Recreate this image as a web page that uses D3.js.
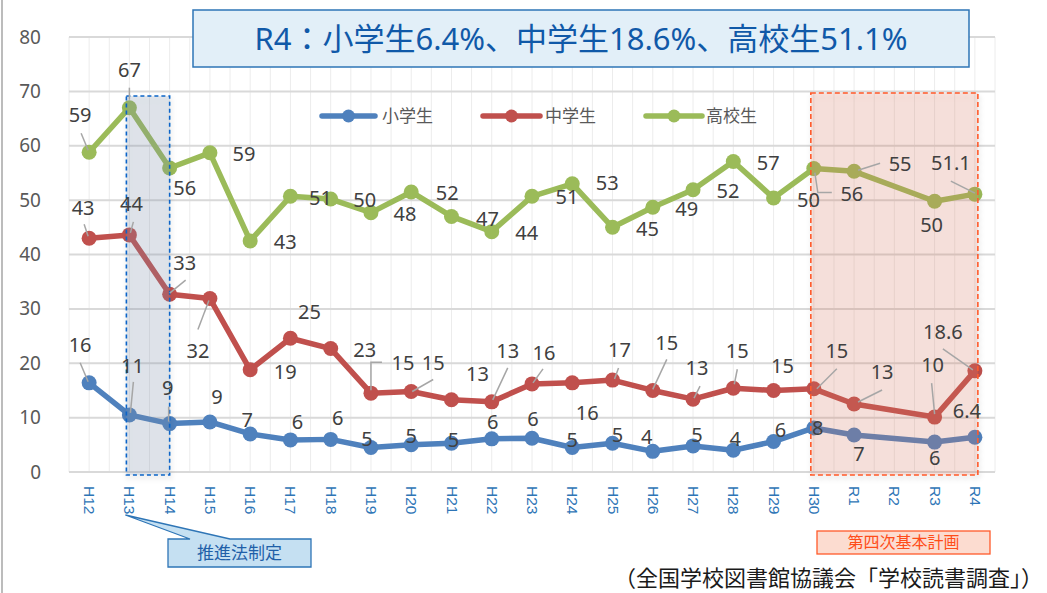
<!DOCTYPE html>
<html><head><meta charset="utf-8">
<script src="https://cdn.jsdelivr.net/npm/d3@7"></script>
<style>
body{margin:0;background:#fff;}
svg{display:block;font-family:"Noto Sans","Noto Sans CJK JP",sans-serif;}
</style></head><body>
<svg id="c" width="1047" height="593"></svg>
<script>
const categories = ["H12","H13","H14","H15","H16","H17","H18","H19","H20","H21","H22","H23","H24","H25","H26","H27","H28","H29","H30","R1","R2","R3","R4"];
const elementary = [16.4,10.5,8.9,9.2,7.0,5.9,6.0,4.5,5.0,5.3,6.1,6.2,4.5,5.3,3.8,4.8,4.0,5.6,8.1,6.8,null,5.5,6.4];
const junior     = [43.0,43.6,32.7,31.9,18.8,24.6,22.7,14.5,14.8,13.3,12.9,16.2,16.4,16.9,15.0,13.4,15.4,15.0,15.3,12.5,null,10.1,18.6];
const senior     = [58.8,67.0,55.9,58.7,42.5,50.7,50.2,47.7,51.5,47.0,44.2,50.7,53.0,45.0,48.7,51.9,57.1,50.4,55.8,55.3,null,49.8,51.1];
const elementaryLabels = ["16","11","9","9","7","6","6","5","5","5","6","6","5","5","4","5","4","6","8","7",null,"6","6.4"];
const juniorLabels     = ["43","44","33","32","19","25","23","15","15","13","13","16","16","17","15","13","15","15","15","13",null,"10","18.6"];
const seniorLabels     = ["59","67","56","59","43","51","50","48","52","47","44","51","53","45","49","52","57","50","56","55",null,"50","51.1"];
const seriesNames = ["小学生","中学生","高校生"];
const yTicks = [0,10,20,30,40,50,60,70,80];
const titleText = "R4：小学生6.4%、中学生18.6%、高校生51.1%";
const note1 = "推進法制定";
const note2 = "第四次基本計画";
const sourceText = "（全国学校図書館協議会「学校読書調査」）";

// label placement (layout only): [dx, dy] from the point
const elemOff = [[-9,-38],[3,-49],[-2,-36],[7,-25],[-3,-14],[7,-18],[7,-22],[-4,-9],[0,-9],[2,-3],[1,-17],[1,-19],[0,-8],[5,-8],[-6,-15],[4,-11],[2,-11],[7,-12],[4,0],[5,19],null,[0,16],[-8,-26]];
const junOff  = [[-6,-30],[2,-31],[15,-31],[-12,52],[35,2],[19,-26],[34,1],[32,-30],[22,-29],[26,-26],[16,-51],[12,-31],[15,30],[7,-30],[14,-48],[4,-31],[4,-37],[9,-25],[23,-38],[28,-32],null,[-2,-52],[-32,-39]];
const senOff  = [[-9,-37],[0,-38],[15,20],[34,1],[35,1],[30,1],[34,1],[34,1],[36,1],[36,2],[35,1],[35,0],[35,-1],[35,1],[34,2],[35,1],[35,1],[35,2],[38,25],[46,-8],null,[-3,24],[-24,-31]];
const elemLead = {0:[[-9,-20],[-1,-1]],1:[[4,-33],[1,-2]],2:[[-1,-17],[-1,-2]]};
const junLead  = {0:[[-5,-14],[-1,-2]],1:[[4,-13],[1,-2]],2:[[16,-14],[0,-1]],3:[[-12,31],[-1,2]],7:[[0,-3],[0,-31],[11,-31]],8:[[22,-12],[1,0]],10:[[16,-34],[1,-2]],11:[[11,-15],[1,-1]],13:[[6,-12],[2,-1]],14:[[14,-31],[0,-1]],15:[[7,-13],[1,-1]],16:[[4,-19],[1,-4]],18:[[23,-20],[3,0]],19:[[28,-14],[4,-2]],21:[[-3,-34],[0,-3]],22:[[-32,-22],[-2,-1]]};
const senLead  = {0:[[-8,-19],[-1,-2]],1:[[0,-20],[0,-8]],18:[[1,4],[4,24],[18,24]],19:[[4,-1],[26,-8]],22:[[-24,-13],[0,-1]]};

const colors = ["#4f81bd","#c0504d","#9bbb59"];
const svg = d3.select("#c");
const defs = svg.append("defs");
const f = defs.append("filter").attr("id","sh").attr("x","-10%").attr("y","-10%").attr("width","130%").attr("height","130%");
f.append("feDropShadow").attr("dx",1).attr("dy",3).attr("stdDeviation",2.5).attr("flood-color","#000").attr("flood-opacity",0.18);

const L = 69, R = 995, T = 37, B = 472;
const x = d3.scalePoint().domain(categories).range([L,R]).padding(0.5);
const y = d3.scaleLinear().domain([0,80]).range([B,T]);
const step = x.step();

// frame line on left
svg.append("line").attr("x1",2).attr("x2",2).attr("y1",0).attr("y2",593).attr("stroke","#a6a6a6").attr("stroke-width",1.5);

// vertical light gridlines every half category
const g = svg.append("g");
for (let i = 0; i <= categories.length*2; i++) {
  const xx = L + i*step/2;
  g.append("line").attr("x1",xx).attr("x2",xx).attr("y1",T).attr("y2",B).attr("stroke","#ececec").attr("stroke-width",1);
}
// horizontal gridlines
g.selectAll(".hg").data(yTicks).join("line")
  .attr("x1",L).attr("x2",R).attr("y1",d=>y(d)).attr("y2",d=>y(d))
  .attr("stroke","#d9d9d9").attr("stroke-width",2);

// y axis labels
const yAxis = d3.axisLeft(y).tickValues(yTicks).tickSize(0).tickPadding(0);
const ya = svg.append("g").attr("transform",`translate(${41},0)`).call(yAxis);
ya.select(".domain").remove();
ya.selectAll("text").attr("font-size",19).attr("fill","#595959").attr("font-family",'"Noto Sans",sans-serif');

// x axis labels (rotated)
const xAxis = d3.axisBottom(x).tickSize(0).tickPadding(0);
const xa = svg.append("g").attr("transform",`translate(0,${B})`).call(xAxis);
xa.select(".domain").remove();
xa.selectAll("text").attr("font-size",15.5).attr("fill","#2e75b6")
  .attr("transform","translate(0,14) rotate(90)").attr("text-anchor","start")
  .attr("dy","0.35em").attr("y",0).attr("x",0);

// series
const allSeries = [elementary, junior, senior];
const allLabels = [elementaryLabels, juniorLabels, seniorLabels];
const allOff = [elemOff, junOff, senOff];
const allLead = [elemLead, junLead, senLead];
const line = d3.line().x(d=>x(d.c)).y(d=>y(d.v));
const seriesG = svg.append("g");
allSeries.forEach((vals,s)=>{
  const pts = vals.map((v,i)=>({c:categories[i],v,i})).filter(d=>d.v!=null);
  seriesG.append("path").datum(pts).attr("d",line).attr("fill","none")
    .attr("stroke",colors[s]).attr("stroke-width",5.5).attr("stroke-linejoin","round");
  seriesG.selectAll(null).data(pts).join("circle")
    .attr("cx",d=>x(d.c)).attr("cy",d=>y(d.v)).attr("r",7.5).attr("fill",colors[s]);
});

// annotation rectangles (semi-transparent overlays)
const x13 = x("H13"), x14 = x("H14"), x30 = x("H30"), xR4 = x("R4");
svg.append("rect").attr("x",x13-3).attr("y",96).attr("width",x14-x13+3).attr("height",379)
  .attr("fill","rgba(132,151,176,0.22)").attr("stroke","#0a64c8").attr("stroke-width",1.6)
  .attr("stroke-dasharray","4,3").attr("filter","url(#sh)");
svg.append("rect").attr("x",x30-3).attr("y",93).attr("width",xR4-x30+6).attr("height",382)
  .attr("fill","rgba(226,120,95,0.2)").attr("stroke","#ff5a2a").attr("stroke-width",1.6)
  .attr("stroke-dasharray","5,3").attr("filter","url(#sh)");

// leaders and labels
const lab = svg.append("g");
allSeries.forEach((vals,s)=>{
  vals.forEach((v,i)=>{
    if (v==null) return;
    const px = x(categories[i]), py = y(v);
    const ld = allLead[s][i];
    if (ld) {
      lab.append("polyline").attr("points",ld.map(p=>`${px+p[0]},${py+p[1]}`).join(" "))
        .attr("fill","none").attr("stroke","#a6a6a6").attr("stroke-width",1.5);
    }
    const o = allOff[s][i];
    lab.append("text").attr("x",px+o[0]).attr("y",py+o[1]).attr("dy","0.36em")
      .attr("text-anchor","middle").attr("font-size",20).attr("fill","#404040")
      .text(allLabels[s][i]);
  });
});

// legend
const legend = [{x0:322,x1:375,tx:382},{x0:483,x1:540,tx:545},{x0:646,x1:702,tx:706}];
legend.forEach((d,s)=>{
  svg.append("line").attr("x1",d.x0).attr("x2",d.x1).attr("y1",116).attr("y2",116)
    .attr("stroke",colors[s]).attr("stroke-width",5.5).attr("stroke-linecap","round");
  svg.append("circle").attr("cx",(d.x0+d.x1)/2).attr("cy",116).attr("r",6.5).attr("fill",colors[s]);
  svg.append("text").attr("x",d.tx).attr("y",116).attr("dy","0.36em").attr("font-size",17)
    .attr("fill","#595959").attr("font-family",'"Noto Sans CJK JP",sans-serif').text(seriesNames[s]);
});

// title box
svg.append("rect").attr("x",193).attr("y",10).attr("width",776).attr("height",57)
  .attr("fill","#e2eff8").attr("stroke","#2e75b6").attr("stroke-width",1.5);
svg.append("text").attr("x",581).attr("y",39).attr("dy","0.36em").attr("text-anchor","middle")
  .attr("font-size",31).attr("fill","#1059a8").attr("font-family",'"Noto Sans","Noto Sans CJK JP",sans-serif')
  .text(titleText);

// callout 推進法制定
svg.append("path").attr("d",`M168,539 L190,539 L${x13-4},515 L230,539 L311,539 L311,567 L168,567 Z`)
  .attr("fill","#c5e0f2").attr("stroke","#2e75b6").attr("stroke-width",1.3);
svg.append("text").attr("x",239.5).attr("y",553).attr("dy","0.36em").attr("text-anchor","middle")
  .attr("font-size",17).attr("fill","#1f5fa8").attr("font-family",'"Noto Sans CJK JP",sans-serif').text(note1);

// 第四次基本計画
svg.append("rect").attr("x",817).attr("y",531).attr("width",173).attr("height",23)
  .attr("fill","#fcdcd0").attr("stroke","#ff5a2a").attr("stroke-width",1.3);
svg.append("text").attr("x",903.5).attr("y",542.5).attr("dy","0.36em").attr("text-anchor","middle")
  .attr("font-size",16).attr("fill","#ff4d1a").attr("font-family",'"Noto Sans CJK JP",sans-serif').text(note2);

// source
svg.append("text").attr("x",614).attr("y",586).attr("font-size",22).attr("fill","#1a1a1a")
  .attr("font-family",'"Noto Sans CJK JP",sans-serif').text(sourceText);
</script>
</body></html>
